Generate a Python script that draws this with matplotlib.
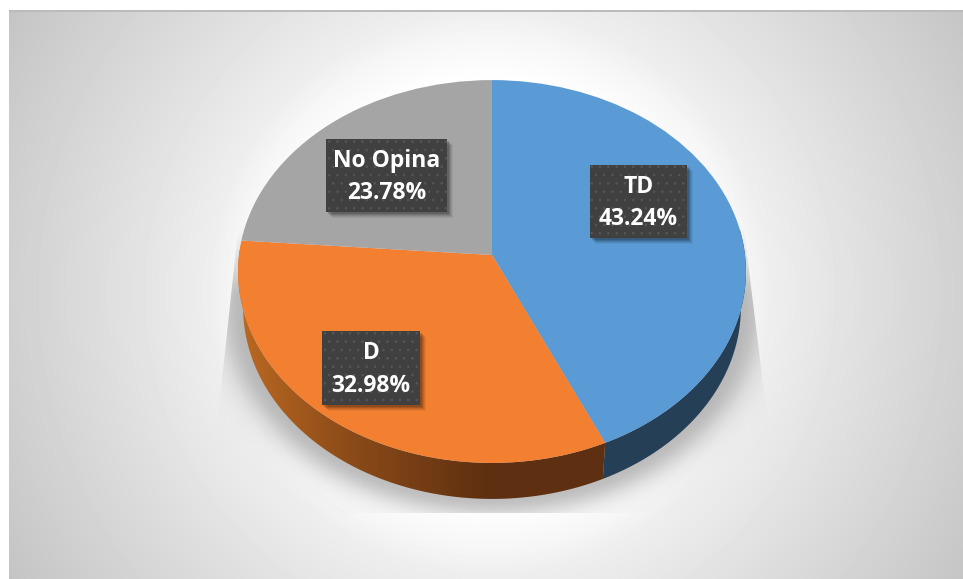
import numpy as np
import matplotlib
matplotlib.use("Agg")
import matplotlib.pyplot as plt
from matplotlib.patches import Rectangle, Polygon
from matplotlib.transforms import Transform

categories = ["TD", "D", "No Opina"]
shares = [43.24, 32.98, 23.78]
top_colors = ["#5B9BD5", "#F37F30", "#A5A5A5"]

W, H = 963, 579
CX, CY = 492.0, 255.0
BX, BY, K = 253.0, 190.0, 0.0862
DEPTH, SHRINK = 36.0, 0.98
plt.rcParams["hatch.linewidth"] = 0.6


class Tilt(Transform):
    input_dims = output_dims = 2

    def transform_non_affine(self, xy):
        xy = np.asarray(xy, float)
        d = 1 + K * xy[:, 1]
        return np.column_stack((CX + BX * xy[:, 0] / d, CY - BY * xy[:, 1] / d))


tilt = Tilt()
fig = plt.figure(figsize=(W / 100, H / 100), dpi=100, facecolor="white")
ax = fig.add_axes([0, 0, 1, 1])

# background panel: circular gradient
yy, xx = np.mgrid[0:H, 0:W] + 0.5
r = np.hypot(xx - 490, yy - 293)
bg = np.interp(r, [0, 215, 260, 281, 390, 480, 558], [255, 254, 245, 238, 221, 208, 196])
ax.imshow(bg, cmap="gray", vmin=0, vmax=255, extent=(0, W, H, 0), aspect="auto", zorder=0)
ax.images[0].set_clip_path(Rectangle((9, 10), W - 9, H - 10, transform=ax.transData))
ax.add_patch(Rectangle((9, 10), W - 9, 1.5, fc="#BBBBBB", ec="none", zorder=1))

# soft shadow beneath the disc
f = np.sqrt(((xx - CX) / 250) ** 2 + ((yy - 307) / 192) ** 2)
d = np.maximum((f - 1) * 215, 0)
left = 230 + (yy - 300) * (222 - 230) / 75
right = 745 + (yy - 233) * (763 - 745) / 147
edge = np.clip(xx - left, 0, 1) * np.clip(right - xx, 0, 1) * np.clip(513.5 - yy, 0, 1)
edge *= np.clip((yy - 225) / 70, 0, 1)
alpha = (0.22 * np.exp(-(d / 21) ** 2) + 0.035 * np.exp(-d / 30)) * edge
rgba = np.zeros((H, W, 4))
rgba[..., 3] = alpha
ax.imshow(rgba, extent=(0, W, H, 0), aspect="auto", zorder=2)


def rim_polygon(start, end):
    th = np.radians(np.linspace(max(start, 82), min(end, 278), 160))
    top = tilt.transform_non_affine(np.column_stack((np.sin(th), np.cos(th))))
    low = np.column_stack((CX + SHRINK * (top[:, 0] - CX), top[:, 1] + DEPTH))
    return np.vstack((top, low[::-1]))


# side wall
edges = np.cumsum([0] + shares) / sum(shares) * 360
ax.add_patch(Polygon(rim_polygon(edges[0], edges[1]), fc="#243F56", ec="none", zorder=3))
wall = Polygon(rim_polygon(edges[1], edges[2]), fc="none", ec="none",
               transform=ax.transData, zorder=3)
ax.add_patch(wall)
grad = np.interp(np.linspace(238, 610, 372), [238, 350, 490, 610], [0, 0.52, 1, 1])[None, :, None]
c0, c1 = np.array([0xBC, 0x69, 0x22]) / 255, np.array([0x5E, 0x2F, 0x10]) / 255
gimg = ax.imshow(c0 + (c1 - c0) * grad, extent=(238, 610, 510, 250), aspect="auto", zorder=3)
gimg.set_clip_path(wall)

# top face
wedges, _ = ax.pie(shares, colors=top_colors, startangle=90, counterclock=False,
                   radius=1, wedgeprops=dict(lw=0))
for w in wedges:
    w.set_transform(tilt + ax.transData)
    w.set_zorder(4)

# labels
box_pos = [(590, 165, 97, 73), (322, 331, 98, 74), (326, 139, 121, 73)]
for name, val, (bx, by, bw, bh) in zip(categories, shares, box_pos):
    for off, a in [(6, 0.05), (5, 0.07), (4, 0.09), (3, 0.12), (2, 0.14)]:
        ax.add_patch(Rectangle((bx + off, by + off), bw, bh, fc="black", alpha=a, ec="none", zorder=5))
    ax.add_patch(Rectangle((bx, by), bw, bh, fc="#404040", ec="#565656", lw=0,
                           hatch="..", zorder=6))
    ax.text(bx + bw / 2, by + bh / 2 + 1.5, f"{name}\n{val:.2f}%", color="white", ha="center",
            va="center", fontsize=16.5, fontfamily="Open Sans", fontweight="bold",
            linespacing=1.47, zorder=7)

ax.set_xlim(0, W)
ax.set_ylim(H, 0)
ax.set_aspect("auto")
ax.axis("off")
fig.savefig("out.png", dpi=100)
